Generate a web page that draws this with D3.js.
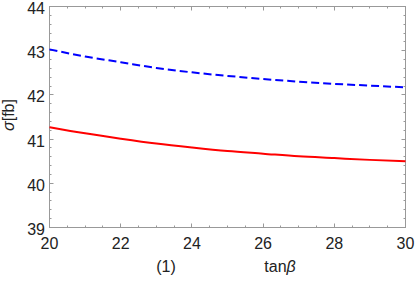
<!DOCTYPE html>
<html>
<head>
<meta charset="utf-8">
<script src="https://cdn.jsdelivr.net/npm/d3@7"></script>
<style>
  body { margin: 0; background: #fff; }
  text { font-family: "Liberation Sans", Arial, sans-serif; }
</style>
</head>
<body>
<script>
// tan(beta) values and the two cross sections
var tanBeta = [20, 21, 22, 23, 24, 25, 26, 27, 28, 29, 30];
var sigmaRed = [41.27, 41.13, 41.01, 40.90, 40.81, 40.73, 40.67, 40.61, 40.57, 40.53, 40.50];
var sigmaBlue = [43.03, 42.87, 42.74, 42.61, 42.51, 42.43, 42.36, 42.30, 42.25, 42.21, 42.17];
var xTicks = [20, 22, 24, 26, 28, 30];
var yTicks = [39, 40, 41, 42, 43, 44];

var width = 415, height = 284;
// note: "top" is taken by window.top, so use other names
var plotL = 49.5, plotR = 405.5, plotT = 6.5, plotB = 227.5;
var fontSize = 16;

var svg = d3.select("body").append("svg")
  .attr("width", width)
  .attr("height", height);

var x = d3.scaleLinear().domain([20, 30]).range([plotL, plotR]);
var y = d3.scaleLinear().domain([39, 44]).range([plotB, plotT]);

var frameColor = "#999";

// minor tick positions
var xMinor = d3.range(20, 30.01, 0.5);
var yMinor = d3.range(39, 44.01, 0.2);

var ticks = svg.append("g").attr("stroke", frameColor).attr("stroke-width", 1);

// bottom + top ticks (pointing inward)
xMinor.forEach(function(v) {
  var major = Math.abs(v - Math.round(v / 2) * 2) < 1e-6;
  var len = major ? 4 : 2;
  var px = Math.round(x(v) - 0.5) + 0.5;
  ticks.append("line").attr("x1", px).attr("x2", px).attr("y1", plotB).attr("y2", plotB - len);
  ticks.append("line").attr("x1", px).attr("x2", px).attr("y1", plotT).attr("y2", plotT + len);
});
// left + right ticks
yMinor.forEach(function(v) {
  var major = Math.abs(v - Math.round(v)) < 1e-6;
  var len = major ? 4 : 2;
  var py = Math.round(y(v) - 0.5) + 0.5;
  ticks.append("line").attr("x1", plotL).attr("x2", plotL + len).attr("y1", py).attr("y2", py);
  ticks.append("line").attr("x1", plotR).attr("x2", plotR - len).attr("y1", py).attr("y2", py);
});

// frame
svg.append("rect")
  .attr("x", plotL).attr("y", plotT)
  .attr("width", plotR - plotL).attr("height", plotB - plotT)
  .attr("fill", "none").attr("stroke", frameColor).attr("stroke-width", 1);

// tick labels
svg.append("g").selectAll("text").data(xTicks).enter().append("text")
  .attr("x", function(d) { return x(d); })
  .attr("y", 248.5)
  .attr("text-anchor", "middle")
  .attr("font-size", fontSize)
  .attr("fill", "#222")
  .text(function(d) { return d; });

svg.append("g").selectAll("text").data(yTicks).enter().append("text")
  .attr("x", 45)
  .attr("y", function(d) { return y(d) + 7.5; })
  .attr("text-anchor", "end")
  .attr("font-size", fontSize)
  .attr("fill", "#222")
  .text(function(d) { return d; });

// axis labels
var yl = svg.append("text")
  .attr("transform", "translate(14,115) rotate(-90)")
  .attr("text-anchor", "middle")
  .attr("font-size", fontSize)
  .attr("fill", "#222");
yl.append("tspan").attr("font-style", "italic").text("σ");
yl.append("tspan").text("[fb]");

svg.append("text")
  .attr("x", 166).attr("y", 272)
  .attr("text-anchor", "middle")
  .attr("font-size", fontSize)
  .attr("fill", "#222")
  .text("(1)");

var xl = svg.append("text")
  .attr("x", 280).attr("y", 272)
  .attr("text-anchor", "middle")
  .attr("font-size", fontSize)
  .attr("fill", "#222");
xl.append("tspan").text("tan");
xl.append("tspan").attr("font-style", "italic").text("β");

// curves
var line = d3.line()
  .x(function(d, i) { return x(tanBeta[i]); })
  .y(function(d) { return y(d); })
  .curve(d3.curveMonotoneX);

svg.append("path")
  .attr("d", line(sigmaBlue))
  .attr("fill", "none")
  .attr("stroke", "#0000ff")
  .attr("stroke-width", 2)
  .attr("stroke-dasharray", "8,4");

svg.append("path")
  .attr("d", line(sigmaRed))
  .attr("fill", "none")
  .attr("stroke", "#ff0000")
  .attr("stroke-width", 2);
</script>
</body>
</html>
